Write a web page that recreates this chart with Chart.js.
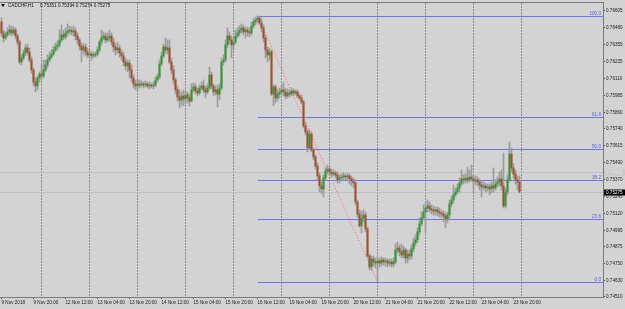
<!DOCTYPE html>
<html>
<head>
<meta charset="utf-8">
<script src="https://cdn.jsdelivr.net/npm/chart.js@4.4.1/dist/chart.umd.min.js"></script>
<style>
  html, body { margin: 0; padding: 0; background: #d3d3d3; }
  canvas { display: block; }
</style>
</head>
<body>
<canvas id="chart" width="625" height="309"></canvas>
<script>
// CADCHF H1 bars, 9 Nov 04:00 .. 23 Nov 23:00 (one entry per bar)
const opens = [
  0.76523,0.76442,0.76406,0.76428,0.76450,0.76464,0.76442,0.76464,0.76420,0.76376,
  0.76230,0.76259,0.76296,0.76332,0.76303,0.76244,0.76171,0.76083,0.76054,0.76113,
  0.76142,0.76127,0.76171,0.76208,0.76244,0.76266,0.76288,0.76318,0.76340,0.76354,
  0.76391,0.76428,0.76413,0.76442,0.76457,0.76460,0.76450,0.76457,0.76420,0.76391,
  0.76347,0.76318,0.76340,0.76303,0.76281,0.76288,0.76274,0.76281,0.76288,0.76318,
  0.76376,0.76406,0.76420,0.76391,0.76406,0.76420,0.76376,0.76340,0.76318,0.76332,
  0.76296,0.76274,0.76230,0.76201,0.76222,0.76171,0.76113,0.76069,0.76054,0.76069,
  0.76061,0.76069,0.76061,0.76069,0.76054,0.76061,0.76054,0.76061,0.76098,0.76120,
  0.76215,0.76274,0.76340,0.76318,0.76332,0.76230,0.76171,0.76098,0.76025,0.75973,
  0.75951,0.75981,0.75959,0.75988,0.75966,0.75944,0.76025,0.76047,0.76017,0.76003,
  0.76039,0.76054,0.76025,0.76010,0.76039,0.76135,0.76054,0.76010,0.76025,0.75995,
  0.76039,0.76230,0.76244,0.76354,0.76420,0.76391,0.76354,0.76376,0.76420,0.76442,
  0.76464,0.76479,0.76450,0.76464,0.76450,0.76442,0.76494,0.76523,0.76537,0.76552,
  0.76515,0.76479,0.76406,0.76318,0.76281,0.76303,0.75995,0.76047,0.75966,0.75995,
  0.76010,0.76025,0.76010,0.75981,0.76003,0.75995,0.76017,0.76003,0.76010,0.75981,
  0.75966,0.75937,0.75761,0.75717,0.75600,0.75702,0.75585,0.75534,0.75468,0.75395,
  0.75322,0.75300,0.75380,0.75431,0.75446,0.75424,0.75409,0.75417,0.75402,0.75366,
  0.75380,0.75387,0.75395,0.75387,0.75395,0.75373,0.75358,0.75343,0.75204,0.75116,
  0.75029,0.75087,0.75109,0.75007,0.74809,0.74728,0.74787,0.74765,0.74757,0.74772,
  0.74757,0.74780,0.74765,0.74772,0.74757,0.74765,0.74750,0.74765,0.74853,0.74867,
  0.74838,0.74816,0.74853,0.74794,0.74823,0.74809,0.74860,0.74904,0.74926,0.74985,
  0.75043,0.75087,0.75131,0.75160,0.75175,0.75153,0.75146,0.75138,0.75146,0.75131,
  0.75124,0.75116,0.75102,0.75080,0.75109,0.75190,0.75219,0.75256,0.75278,0.75307,
  0.75343,0.75373,0.75366,0.75380,0.75366,0.75387,0.75373,0.75358,0.75366,0.75351,
  0.75329,0.75314,0.75322,0.75307,0.75314,0.75300,0.75322,0.75307,0.75336,0.75351,
  0.75373,0.75322,0.75175,0.75278,0.75366,0.75556,0.75453,0.75409,0.75366,0.75351
];
const highs = [
  0.76552,0.76464,0.76450,0.76479,0.76501,0.76494,0.76486,0.76479,0.76435,0.76391,
  0.76281,0.76318,0.76354,0.76362,0.76332,0.76266,0.76186,0.76113,0.76127,0.76157,
  0.76208,0.76244,0.76244,0.76281,0.76303,0.76318,0.76347,0.76369,0.76384,0.76464,
  0.76501,0.76464,0.76479,0.76508,0.76494,0.76486,0.76494,0.76479,0.76442,0.76406,
  0.76369,0.76362,0.76362,0.76332,0.76318,0.76303,0.76303,0.76303,0.76340,0.76391,
  0.76464,0.76450,0.76442,0.76442,0.76464,0.76442,0.76406,0.76362,0.76376,0.76354,
  0.76318,0.76303,0.76259,0.76244,0.76244,0.76208,0.76135,0.76098,0.76098,0.76098,
  0.76091,0.76083,0.76091,0.76083,0.76083,0.76076,0.76083,0.76120,0.76142,0.76244,
  0.76303,0.76362,0.76406,0.76391,0.76391,0.76259,0.76201,0.76113,0.76054,0.76025,
  0.76010,0.76025,0.76010,0.76010,0.75995,0.76069,0.76076,0.76069,0.76039,0.76061,
  0.76083,0.76098,0.76054,0.76069,0.76193,0.76157,0.76069,0.76054,0.76061,0.76069,
  0.76259,0.76281,0.76391,0.76479,0.76450,0.76420,0.76406,0.76464,0.76479,0.76494,
  0.76508,0.76501,0.76486,0.76486,0.76479,0.76523,0.76545,0.76559,0.76567,0.76560,
  0.76545,0.76501,0.76428,0.76340,0.76332,0.76318,0.76061,0.76061,0.76025,0.76039,
  0.76054,0.76076,0.76039,0.76032,0.76025,0.76039,0.76032,0.76025,0.76025,0.75995,
  0.75988,0.75951,0.75790,0.75732,0.75732,0.75717,0.75600,0.75549,0.75490,0.75417,
  0.75351,0.75402,0.75453,0.75475,0.75461,0.75446,0.75439,0.75431,0.75424,0.75402,
  0.75409,0.75417,0.75409,0.75417,0.75409,0.75395,0.75380,0.75366,0.75219,0.75146,
  0.75138,0.75146,0.75131,0.75021,0.74823,0.74809,0.74809,0.74794,0.74801,0.74794,
  0.74801,0.74794,0.74794,0.74787,0.74787,0.74787,0.74794,0.74897,0.74911,0.74889,
  0.74897,0.74882,0.74867,0.74853,0.74853,0.74889,0.74941,0.74963,0.75014,0.75087,
  0.75131,0.75182,0.75190,0.75219,0.75204,0.75182,0.75175,0.75168,0.75168,0.75160,
  0.75146,0.75138,0.75124,0.75131,0.75219,0.75248,0.75329,0.75307,0.75336,0.75380,
  0.75439,0.75402,0.75409,0.75461,0.75439,0.75475,0.75402,0.75395,0.75387,0.75373,
  0.75358,0.75351,0.75343,0.75336,0.75336,0.75351,0.75453,0.75366,0.75387,0.75424,
  0.75439,0.75563,0.75307,0.75402,0.75644,0.75600,0.75483,0.75439,0.75395,0.75394
];
const lows = [
  0.76420,0.76376,0.76391,0.76413,0.76428,0.76420,0.76428,0.76398,0.76354,0.76215,
  0.76208,0.76244,0.76274,0.76281,0.76230,0.76149,0.76054,0.76010,0.76025,0.76083,
  0.76098,0.76113,0.76157,0.76186,0.76230,0.76252,0.76274,0.76303,0.76318,0.76340,
  0.76376,0.76391,0.76398,0.76420,0.76435,0.76428,0.76420,0.76391,0.76362,0.76318,
  0.76230,0.76288,0.76274,0.76259,0.76266,0.76244,0.76259,0.76266,0.76274,0.76303,
  0.76354,0.76391,0.76369,0.76376,0.76384,0.76354,0.76303,0.76281,0.76296,0.76266,
  0.76244,0.76201,0.76171,0.76157,0.76113,0.76083,0.76039,0.76025,0.76025,0.76039,
  0.76047,0.76039,0.76047,0.76039,0.76032,0.76039,0.76032,0.76047,0.76083,0.76105,
  0.76201,0.76259,0.76296,0.76288,0.76215,0.76142,0.76069,0.75995,0.75944,0.75893,
  0.75908,0.75908,0.75922,0.75929,0.75908,0.75937,0.76010,0.75995,0.75981,0.75988,
  0.76025,0.76003,0.75966,0.75995,0.76025,0.76032,0.75981,0.75988,0.75900,0.75951,
  0.76025,0.76208,0.76230,0.76332,0.76362,0.76259,0.76318,0.76362,0.76406,0.76420,
  0.76442,0.76428,0.76406,0.76420,0.76413,0.76428,0.76479,0.76501,0.76515,0.76501,
  0.76450,0.76376,0.76259,0.76230,0.76244,0.75981,0.75908,0.75929,0.75944,0.75966,
  0.75988,0.75981,0.75959,0.75966,0.75973,0.75981,0.75981,0.75988,0.75966,0.75951,
  0.75922,0.75746,0.75695,0.75571,0.75585,0.75571,0.75512,0.75446,0.75366,0.75278,
  0.75263,0.75241,0.75366,0.75409,0.75402,0.75387,0.75395,0.75380,0.75343,0.75343,
  0.75358,0.75366,0.75366,0.75358,0.75336,0.75322,0.75307,0.75182,0.75094,0.75021,
  0.74977,0.75058,0.74985,0.74794,0.74706,0.74706,0.74736,0.74721,0.74620,0.74728,
  0.74736,0.74743,0.74736,0.74728,0.74736,0.74728,0.74728,0.74750,0.74831,0.74809,
  0.74794,0.74794,0.74757,0.74757,0.74780,0.74787,0.74838,0.74882,0.74904,0.74963,
  0.75029,0.75072,0.74985,0.75131,0.75131,0.75116,0.75109,0.75109,0.75102,0.75094,
  0.75087,0.75058,0.75014,0.75050,0.75072,0.75168,0.75197,0.75241,0.75263,0.75278,
  0.75322,0.75336,0.75343,0.75343,0.75351,0.75358,0.75270,0.75329,0.75322,0.75292,
  0.75241,0.75292,0.75278,0.75285,0.75256,0.75270,0.75278,0.75292,0.75314,0.75322,
  0.75292,0.75160,0.75160,0.75256,0.75351,0.75424,0.75380,0.75336,0.75292,0.75274
];
const closes = [
  0.76442,0.76406,0.76428,0.76450,0.76464,0.76442,0.76464,0.76420,0.76376,0.76230,
  0.76259,0.76296,0.76332,0.76303,0.76244,0.76171,0.76083,0.76054,0.76113,0.76142,
  0.76127,0.76171,0.76208,0.76244,0.76266,0.76288,0.76318,0.76340,0.76354,0.76391,
  0.76428,0.76413,0.76442,0.76457,0.76460,0.76450,0.76457,0.76420,0.76391,0.76347,
  0.76318,0.76340,0.76303,0.76281,0.76288,0.76274,0.76281,0.76288,0.76318,0.76376,
  0.76406,0.76420,0.76391,0.76406,0.76420,0.76376,0.76340,0.76318,0.76332,0.76296,
  0.76274,0.76230,0.76201,0.76222,0.76171,0.76113,0.76069,0.76054,0.76069,0.76061,
  0.76069,0.76061,0.76069,0.76054,0.76061,0.76054,0.76061,0.76098,0.76120,0.76215,
  0.76274,0.76340,0.76318,0.76332,0.76230,0.76171,0.76098,0.76025,0.75973,0.75951,
  0.75981,0.75959,0.75988,0.75966,0.75944,0.76025,0.76047,0.76017,0.76003,0.76039,
  0.76054,0.76025,0.76010,0.76039,0.76135,0.76054,0.76010,0.76025,0.75995,0.76039,
  0.76230,0.76244,0.76354,0.76420,0.76391,0.76354,0.76376,0.76420,0.76442,0.76464,
  0.76479,0.76450,0.76464,0.76450,0.76442,0.76494,0.76523,0.76537,0.76552,0.76515,
  0.76479,0.76406,0.76318,0.76281,0.76303,0.75995,0.76047,0.75966,0.75995,0.76010,
  0.76025,0.76010,0.75981,0.76003,0.75995,0.76017,0.76003,0.76010,0.75981,0.75966,
  0.75937,0.75761,0.75717,0.75600,0.75702,0.75585,0.75534,0.75468,0.75395,0.75322,
  0.75300,0.75380,0.75431,0.75446,0.75424,0.75409,0.75417,0.75402,0.75366,0.75380,
  0.75387,0.75395,0.75387,0.75395,0.75373,0.75358,0.75343,0.75204,0.75116,0.75029,
  0.75087,0.75109,0.75007,0.74809,0.74728,0.74787,0.74765,0.74757,0.74772,0.74757,
  0.74780,0.74765,0.74772,0.74757,0.74765,0.74750,0.74765,0.74853,0.74867,0.74838,
  0.74816,0.74853,0.74794,0.74823,0.74809,0.74860,0.74904,0.74926,0.74985,0.75043,
  0.75087,0.75131,0.75160,0.75175,0.75153,0.75146,0.75138,0.75146,0.75131,0.75124,
  0.75116,0.75102,0.75080,0.75109,0.75190,0.75219,0.75256,0.75278,0.75307,0.75343,
  0.75373,0.75366,0.75380,0.75366,0.75387,0.75373,0.75358,0.75366,0.75351,0.75329,
  0.75314,0.75322,0.75307,0.75314,0.75300,0.75322,0.75307,0.75336,0.75351,0.75373,
  0.75322,0.75175,0.75278,0.75366,0.75556,0.75453,0.75409,0.75366,0.75351,0.75275
];

// time axis labels (bar index -> text)
const timeTickBars = [0,16,32,48,64,80,96,112,128,144,160,176,192,208,224,240,256];
const timeTickLabels = ['9 Nov 2018','9 Nov 20:00','12 Nov 12:00','13 Nov 04:00','13 Nov 20:00',
  '14 Nov 12:00','15 Nov 04:00','15 Nov 20:00','16 Nov 12:00','19 Nov 04:00','19 Nov 20:00',
  '20 Nov 12:00','21 Nov 04:00','21 Nov 20:00','22 Nov 12:00','23 Nov 04:00','23 Nov 20:00'];
// day separators (first bar of each day)
const daySeparators = [20,44,68,92,116,140,164,188,212,236,260];
// price scale labels
const priceTicks = [0.76605,0.76480,0.76355,0.76235,0.76110,0.75985,0.75860,0.75740,0.75615,
  0.75490,0.75370,0.75245,0.75120,0.74995,0.74875,0.74750,0.74630,0.74510];

// fibonacci retracement (anchored at bar 128 high and bar 188 low)
const fibAnchorBars = [128, 188];
const fibLabels = ['100.0','61.8','50.0','38.2','23.6','0.0'];
const fibPrices = [0.76567,0.75823,0.75594,0.75364,0.75080,0.74620];

const symbolText = 'CADCHF,H1';
const lastOHLC = '0.75351 0.75394 0.75274 0.75275';
const bidPrice = 0.75275;
const askPrice = 0.75426;

const BULL = '#2f9a2f';
const BEAR = '#a0522d';
const X_MIN = -0.75;
const X_MAX = 300.75;

Chart.defaults.font.family = '"Liberation Sans", Arial, sans-serif';
Chart.defaults.font.size = 4.6;
Chart.defaults.color = '#1a1a1a';

const wickData = highs.map((h, i) => ({ x: i, y: [lows[i], h] }));
const bodyData = closes.map((c, i) => ({ x: i, y: [Math.min(opens[i], c), Math.max(opens[i], c)] }));
const bodyColors = closes.map((c, i) => (c >= opens[i] ? BULL : BEAR));

const datasets = [
  {
    type: 'line', xAxisID: 'x', yAxisID: 'y',
    data: [{ x: fibAnchorBars[0], y: fibPrices[0] }, { x: fibAnchorBars[1], y: fibPrices[5] }],
    borderColor: '#f06a6a', borderWidth: 1, borderDash: [1, 2], pointRadius: 0, order: 9
  },
  { type: 'bar', xAxisID: 'x', yAxisID: 'y', data: wickData, backgroundColor: '#9c9c9c', barThickness: 1, grouped: false, order: 2 },
  { type: 'bar', xAxisID: 'x', yAxisID: 'y', data: bodyData, backgroundColor: bodyColors, barThickness: 1.4, minBarLength: 1, grouped: false, order: 1 }
];

// horizontal price lines (bid/ask, fibo levels) snapped to whole pixels
const priceLines = {
  id: 'priceLines',
  beforeDatasetsDraw(chart) {
    const { ctx, chartArea: a, scales: { x, y } } = chart;
    const snap = v => Math.round(v) + 0.5;
    ctx.save();
    ctx.lineWidth = 1;
    ctx.strokeStyle = '#c0c0c0';
    [askPrice, bidPrice].forEach(p => {
      const py = snap(y.getPixelForValue(p));
      ctx.beginPath(); ctx.moveTo(a.left, py); ctx.lineTo(a.right, py); ctx.stroke();
    });
    ctx.strokeStyle = '#7272ea';
    const x0 = Math.round(x.getPixelForValue(fibAnchorBars[0]));
    fibPrices.forEach(p => {
      const py = snap(y.getPixelForValue(p));
      ctx.beginPath(); ctx.moveTo(x0, py); ctx.lineTo(a.right, py); ctx.stroke();
    });
    ctx.restore();
  }
};

const overlay = {
  id: 'overlay',
  afterDraw(chart) {
    const { ctx, chartArea: a, scales: { y } } = chart;
    ctx.save();
    ctx.font = '4.6px "Liberation Sans", Arial, sans-serif';
    ctx.textBaseline = 'middle';

    // fib level captions
    ctx.fillStyle = '#5a5ae6';
    ctx.textAlign = 'right';
    fibPrices.forEach((p, k) => {
      ctx.fillText(fibLabels[k], a.right - 2, Math.round(y.getPixelForValue(p)) - 2.5);
    });

    // header
    ctx.fillStyle = '#000';
    ctx.beginPath();
    ctx.moveTo(1, 4); ctx.lineTo(5, 4); ctx.lineTo(3, 7); ctx.closePath(); ctx.fill();
    ctx.textAlign = 'left';
    ctx.fillStyle = '#111';
    ctx.fillText(symbolText, 8, 5.5);
    ctx.fillText(lastOHLC, 40, 5.5);

    // ask / bid captions on the price scale
    const ya = Math.round(y.getPixelForValue(askPrice)) + 0.5;
    ctx.fillStyle = '#c8c8c8';
    ctx.fillRect(a.right + 1, ya - 3, 22, 6);
    ctx.fillStyle = '#e2e2e2';
    ctx.fillText(askPrice.toFixed(5), a.right + 3, ya);
    const yb = Math.round(y.getPixelForValue(bidPrice)) + 0.5;
    ctx.fillStyle = '#000';
    ctx.fillRect(a.right + 1, yb - 3, 22, 6);
    ctx.fillStyle = '#fff';
    ctx.fillText(bidPrice.toFixed(5), a.right + 3, yb);
    ctx.restore();
  }
};

new Chart(document.getElementById('chart'), {
  type: 'bar',
  data: { datasets },
  options: {
    responsive: false,
    animation: false,
    devicePixelRatio: 1,
    layout: { padding: { top: 2, left: 0, right: 0, bottom: 0 } },
    plugins: { legend: { display: false }, tooltip: { enabled: false } },
    scales: {
      x: {
        type: 'linear', position: 'bottom', min: X_MIN, max: X_MAX, offset: false,
        afterBuildTicks: s => { s.ticks = timeTickBars.map(v => ({ value: v })); },
        afterFit: s => { s.height = 12; s.paddingLeft = 0; s.paddingRight = 0; },
        ticks: {
          autoSkip: false, maxRotation: 0, minRotation: 0, align: 'start', padding: 1,
          callback: v => timeTickLabels[timeTickBars.indexOf(v)]
        },
        grid: { offset: false, drawOnChartArea: false, drawTicks: true, tickLength: 2, color: '#555' },
        border: { display: true, color: '#7a7a7a' }
      },
      days: {
        type: 'linear', position: 'top', min: X_MIN, max: X_MAX, offset: false,
        afterBuildTicks: s => { s.ticks = daySeparators.map(v => ({ value: v })); },
        afterFit: s => { s.height = 0; s.paddingLeft = 0; s.paddingRight = 0; },
        ticks: { display: false },
        grid: { offset: false, drawTicks: false, color: '#8a8a8a' },
        border: { display: true, color: '#7a7a7a', dash: [2, 1] }
      },
      y: {
        type: 'linear', position: 'right', min: 0.74508, max: 0.76669,
        afterBuildTicks: s => { s.ticks = priceTicks.map(v => ({ value: v })); },
        afterFit: s => { s.width = 22; s.paddingTop = 0; s.paddingBottom = 0; },
        ticks: { autoSkip: false, padding: 1, callback: v => v.toFixed(5) },
        grid: { drawOnChartArea: false, drawTicks: true, tickLength: 2, color: '#555' },
        border: { display: true, color: '#7a7a7a' }
      }
    }
  },
  plugins: [priceLines, overlay]
});
</script>
</body>
</html>
